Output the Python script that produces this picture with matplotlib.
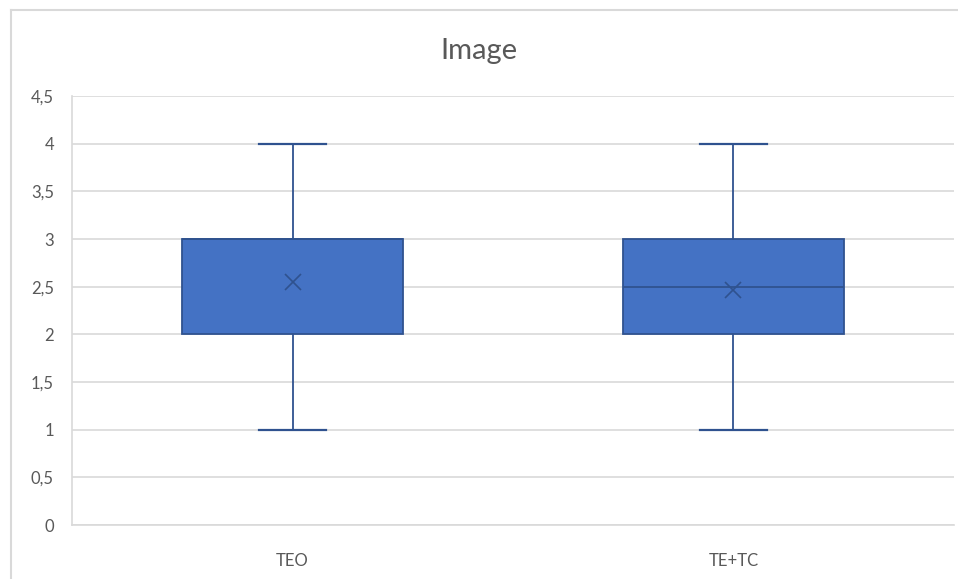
import matplotlib.pyplot as plt
from matplotlib.lines import Line2D

# data
categories = ["TEO", "TE+TC"]
q1 = [2, 2]
q3 = [3, 3]
medians = [3, 2.5]
whisker_low = [1, 1]
whisker_high = [4, 4]
means = [2.55, 2.46]
y_ticks = [0, 0.5, 1, 1.5, 2, 2.5, 3, 3.5, 4, 4.5]
y_tick_labels = [str(t).replace(".", ",") if t % 1 else str(int(t)) for t in y_ticks]

FILL = "#4472C4"
EDGE = "#2F528F"
GRID = "#D9D9D9"
TEXT = "#595959"

plt.rcParams["font.family"] = ["Lato", "DejaVu Sans"]

fig = plt.figure(figsize=(9.58, 5.79), dpi=100)
ax = fig.add_axes([72 / 958, 1 - 525 / 579, 882 / 958, (525 - 96) / 579])

stats = []
for i, name in enumerate(categories):
    stats.append(dict(label=name, med=medians[i], q1=q1[i], q3=q3[i],
                      whislo=whisker_low[i], whishi=whisker_high[i],
                      mean=means[i], fliers=[]))

positions = [0.5, 1.5]
ax.bxp(stats, positions=positions, widths=0.5, showmeans=True, patch_artist=True,
       boxprops=dict(facecolor=FILL, edgecolor=EDGE, linewidth=1.3),
       medianprops=dict(color=EDGE, linewidth=1.3),
       whiskerprops=dict(color=EDGE, linewidth=1.3),
       capprops=dict(color=EDGE, linewidth=1.6),
       capwidths=0.15,
       meanprops=dict(marker="x", markeredgecolor=EDGE, markersize=11, markeredgewidth=1.2),
       zorder=3)

ax.set_xlim(0, 2)
ax.set_ylim(0, 4.5)
ax.set_yticks(y_ticks)
ax.set_yticklabels(y_tick_labels)
ax.set_xticks(positions)
ax.set_xticklabels(categories)
ax.yaxis.grid(True, color=GRID, linewidth=1.2, zorder=0)
ax.set_axisbelow(True)
ax.tick_params(axis="y", length=0, pad=13, labelsize=12, labelcolor=TEXT)
ax.tick_params(axis="x", length=0, pad=20, labelsize=12, labelcolor=TEXT)
for side in ["top", "right"]:
    ax.spines[side].set_visible(False)
for side in ["left", "bottom"]:
    ax.spines[side].set_color(GRID)
    ax.spines[side].set_linewidth(1.2)

fig.text(0.5, 1 - 51 / 579, "Image", ha="center", va="center", fontsize=21, color=TEXT)

# chart frame (left and top edges visible in the reference)
fig.add_artist(Line2D([10.5 / 958, 10.5 / 958], [0, 1 - 10 / 579], color=GRID, linewidth=1.5))
fig.add_artist(Line2D([10.5 / 958, 1], [1 - 10 / 579, 1 - 10 / 579], color=GRID, linewidth=1.5))

fig.savefig("out.png", dpi=100)
